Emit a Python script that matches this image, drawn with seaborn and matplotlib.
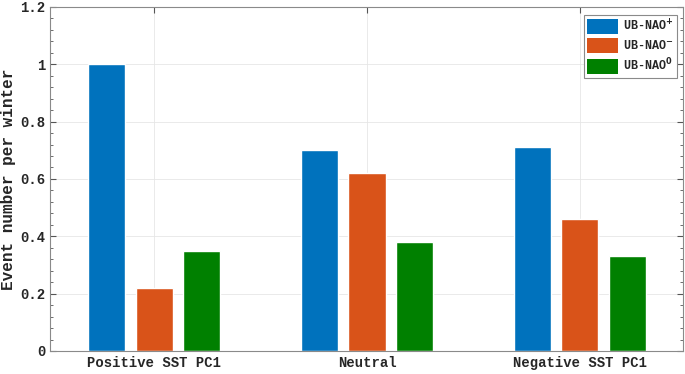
import numpy as np
import pandas as pd
import matplotlib
matplotlib.use("Agg")
import matplotlib.pyplot as plt
import seaborn as sns
from matplotlib.ticker import MultipleLocator, FuncFormatter
from matplotlib.patches import Patch

# values
categories = ["Positive SST PC1", "Neutral", "Negative SST PC1"]
groups = ["UB-NAO+", "UB-NAO-", "UB-NAO0"]
ub_nao_pos = [1.00, 0.70, 0.71]
ub_nao_neg = [0.22, 0.62, 0.46]
ub_nao_zero = [0.35, 0.38, 0.33]
legend_labels = ["UB-NAO$^{+}$", "UB-NAO$^{-}$", "UB-NAO$^{0}$"]
colors = ["#0072BD", "#D95319", "#008000"]

df = pd.DataFrame({
    "cat": categories * 3,
    "grp": [groups[0]] * 3 + [groups[1]] * 3 + [groups[2]] * 3,
    "val": ub_nao_pos + ub_nao_neg + ub_nao_zero,
})

sns.set_style("white")
plt.rcParams["font.family"] = ["Liberation Mono", "DejaVu Sans"]
plt.rcParams["font.weight"] = "bold"

fig = plt.figure(figsize=(6.85, 3.74), dpi=100)
ax = fig.add_axes([0.073, 0.0615, 0.924, 0.92])

sns.barplot(data=df, x="cat", y="val", hue="grp", order=categories,
            hue_order=groups, palette=colors, width=0.67, gap=0.22,
            saturation=1, ax=ax, legend=False)

ax.set_xlim(-0.49, 2.485)
ax.set_ylim(0, 1.2)
ax.yaxis.set_major_locator(MultipleLocator(0.2))
ax.yaxis.set_minor_locator(MultipleLocator(0.04))
ax.yaxis.set_major_formatter(FuncFormatter(lambda v, p: "%g" % round(v, 2)))
ax.set_xlabel("")
ax.set_ylabel("Event number per winter", fontsize=11.5, fontweight="bold",
              color="#262626", labelpad=3)

ax.grid(True, which="major", color="#e6e6e6", linewidth=0.6)
ax.set_axisbelow(True)
for s in ax.spines.values():
    s.set_visible(True)
    s.set_color("#8a8a8a")
    s.set_linewidth(0.8)
ax.tick_params(which="both", direction="in", top=True, right=True,
               left=True, bottom=True, colors="#555555", labelcolor="#262626")
ax.tick_params(which="major", length=4, labelsize=10)
ax.tick_params(which="minor", length=2)
ax.tick_params(axis="x", which="minor", top=False, bottom=False)
for lbl in ax.get_xticklabels() + ax.get_yticklabels():
    lbl.set_fontweight("bold")

handles = [Patch(facecolor=c, edgecolor="none") for c in colors]
leg = ax.legend(handles, legend_labels, loc="upper right",
                bbox_to_anchor=(0.99, 0.977), borderaxespad=0,
                handlelength=2.6, handleheight=1.6, labelspacing=0.3,
                handletextpad=0.4, borderpad=0.3, fancybox=False,
                framealpha=1, prop={"weight": "bold", "size": 8.5})
leg.get_frame().set_edgecolor("#8a8a8a")
leg.get_frame().set_linewidth(0.8)

fig.savefig("out.png", dpi=100)
